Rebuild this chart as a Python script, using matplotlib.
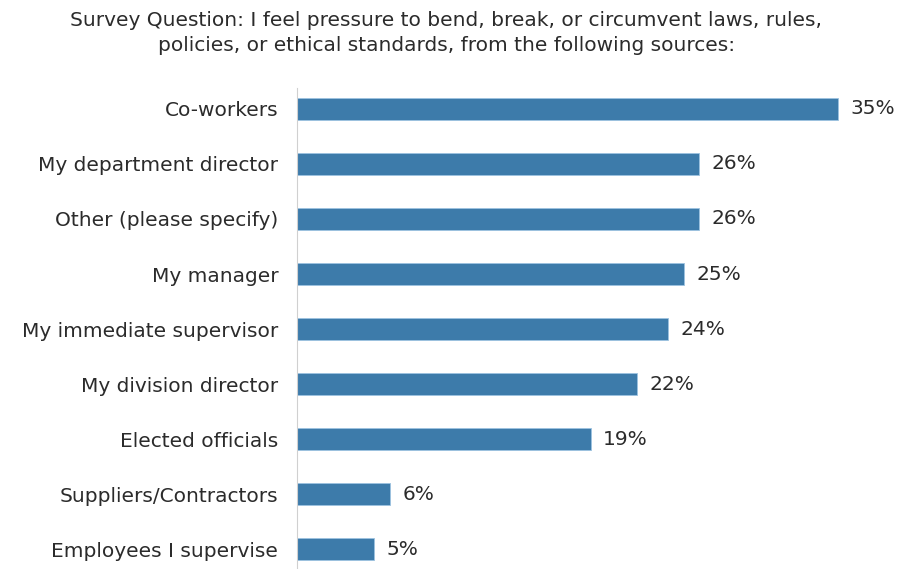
import matplotlib
matplotlib.use("Agg")
import matplotlib.pyplot as plt

categories = [
    "Co-workers",
    "My department director",
    "Other (please specify)",
    "My manager",
    "My immediate supervisor",
    "My division director",
    "Elected officials",
    "Suppliers/Contractors",
    "Employees I supervise",
]
values = [35, 26, 26, 25, 24, 22, 19, 6, 5]
title = ("Survey Question: I feel pressure to bend, break, or circumvent laws, rules,\n"
         "policies, or ethical standards, from the following sources:")

bar_color = "#3D7BAA"
text_color = "#2B2B2B"

plt.rcParams["font.family"] = ["DejaVu Sans"]

fig = plt.figure(figsize=(9, 5.69), dpi=100)
ax = fig.add_axes([0.33, 0.0, 0.67, 481 / 569])

pos = list(range(len(categories)))
ax.barh(pos, values, height=0.4, color=bar_color, edgecolor="#9CC3E0", linewidth=0.6)

for p, v in zip(pos, values):
    ax.annotate(f"{v}%", xy=(v, p), xytext=(9, 0), textcoords="offset points",
                va="center", ha="left", fontsize=14.5, color=text_color)

ax.set_yticks(pos)
ax.set_yticklabels(categories, fontsize=14.5, color=text_color)
ax.tick_params(axis="y", length=0, pad=13.5)
ax.set_xticks([])
ax.set_xlim(0, 39.0)
ax.set_ylim(8.36, -0.38)

for s in ["top", "right", "bottom"]:
    ax.spines[s].set_visible(False)
ax.spines["left"].set_color("#D0D0D0")
ax.spines["left"].set_linewidth(0.8)

fig.text(0.496, 1 - 33 / 569, title, ha="center", va="center", fontsize=14.5,
         color=text_color, linespacing=1.35)

fig.savefig("out.png", dpi=100)
